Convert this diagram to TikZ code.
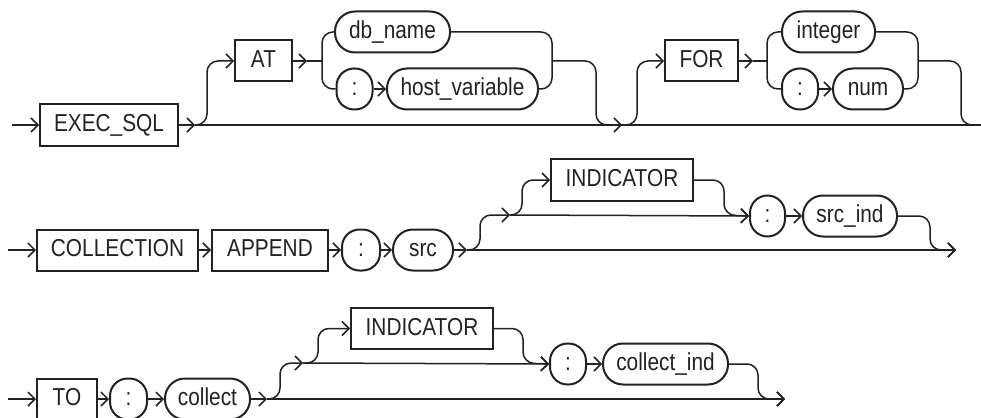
\documentclass[tikz,border=0pt]{standalone}
\usepackage{fontspec}
\setmainfont{Liberation Sans}[FakeStretch=0.85]
\usetikzlibrary{arrows.meta}
\definecolor{ink}{HTML}{222222}
\begin{document}
\begin{tikzpicture}[x=1pt,y=-1pt,
  every node/.style={inner sep=0pt, text height=17.5pt, text depth=4pt,
    font=\fontsize{24.5}{28}\selectfont, text=ink},
  kw/.style={draw=ink, line width=2pt, minimum height=41pt},
  pill/.style={draw=ink, line width=2pt, minimum height=41pt, rounded corners=20pt},
  colon/.style={draw=ink, line width=2pt, minimum height=41pt, minimum width=36pt, rounded corners=17.5pt},
  conn/.style={draw=ink, line width=1.5pt, rounded corners=11pt},
  arr/.style={conn, -{Straight Barb[length=7pt,width=14pt]}},
]
\useasboundingbox (0,0) rectangle (981,417);
\clip (0,0) rectangle (981,417);

% ---------- Row 1 ----------
\node[kw, minimum width=138pt] (exec) at (109,125) {EXEC\_SQL};
\node[kw, minimum width=57pt] (at) at (263.5,61) {AT};
\node[pill, minimum width=115pt] (dbname) at (392.5,32) {db\_name};
\node[colon] (colon1) at (354.5,89) {:};
\node[pill, minimum width=151pt] (hostvar) at (462.5,89) {host\_variable};
\node[kw, minimum width=73pt] (for) at (701.5,61) {FOR};
\node[pill, minimum width=93pt] (integer) at (828.5,32) {integer};
\node[colon] (colon2) at (800,89) {:};
\node[pill, minimum width=70pt] (num) at (868,89) {num};

\coordinate (s1) at (12,125);
\coordinate (j1) at (195,125);
\coordinate (e1) at (981,125);
\coordinate (a1) at (307,61);
\coordinate (lb1) at (322,61);
\coordinate (rb1) at (552,61);
\coordinate (m1) at (622,125);
\coordinate (b1) at (625,125);
\coordinate (a2) at (753,61);
\coordinate (lb2) at (767,61);
\coordinate (rb2) at (918,61);

\draw[arr] (s1) -- (exec.west);
\draw[arr] (exec.east) -- (j1);
\draw[conn] (j1) -- (e1);
\draw[arr] (j1) -| (207,61) -- (at.west);
\draw[arr] (at.east) -- (a1);
\draw[conn] (a1) -- (lb1);
\draw[conn] (dbname.west) -| (lb1) |- (colon1.west);
\draw[arr] (colon1.east) -- (hostvar.west);
\draw[conn] (dbname.east) -| (rb1) |- (hostvar.east);
\draw[arr] (rb1) -| (596,125) -- (m1);
\draw[arr] (b1) -| (637,61) -- (for.west);
\draw[arr] (for.east) -- (a2);
\draw[conn] (a2) -- (lb2);
\draw[conn] (integer.west) -| (lb2) |- (colon2.west);
\draw[arr] (colon2.east) -- (num.west);
\draw[conn] (integer.east) -| (rb2) |- (num.east);
\draw[conn] (rb2) -| (961,125) -- (e1);

% ---------- Row 2 ----------
\node[kw, minimum width=161pt] (collection) at (117.5,250) {COLLECTION};
\node[kw, minimum width=116pt] (append) at (270,250) {APPEND};
\node[colon, minimum width=38pt] (colon3) at (361,250) {:};
\node[pill, minimum width=60pt] (src) at (423,250) {src};
\node[kw, minimum width=142pt, minimum height=42pt] (ind1) at (622,180) {INDICATOR};
\node[colon, minimum width=35pt] (colon4) at (767.5,216) {:};
\node[pill, minimum width=94pt] (srcind) at (850,216) {src\_ind};

\coordinate (s2) at (8,250);
\coordinate (j2) at (467,250);
\coordinate (k2) at (510,215);
\coordinate (e2) at (956,250);

\draw[arr] (s2) -- (collection.west);
\draw[arr] (collection.east) -- (append.west);
\draw[arr] (append.east) -- (colon3.west);
\draw[arr] (colon3.east) -- (src.west);
\draw[arr] (src.east) -- (j2);
\draw[arr] (j2) -- (e2);
\draw[arr] (j2) -| (480,215) -- (k2);
\draw[arr] (k2) -| (522,180) -- (ind1.west);
\draw[arr] (k2) -- (colon4.west);
\draw[arr] (ind1.east) -| (724,215) -- (colon4.west);
\draw[arr] (colon4.east) -- (srcind.west);
\draw[arr] (srcind.east) -| (930,250) -- (e2);

% ---------- Row 3 ----------
\node[kw, minimum width=60pt] (to) at (67,399) {TO};
\node[colon, minimum width=37pt] (colon5) at (128.5,399) {:};
\node[pill, minimum width=85pt] (collect) at (207.5,399) {collect};
\node[kw, minimum width=142pt] (ind2) at (422,328.5) {INDICATOR};
\node[colon] (colon6) at (568,364) {:};
\node[pill, minimum width=125pt] (collectind) at (665.5,364) {collect\_ind};

\coordinate (s3) at (8,399);
\coordinate (j3) at (267,399);
\coordinate (k3) at (303,363);
\coordinate (e3) at (785,399);

\draw[arr] (s3) -- (to.west);
\draw[arr] (to.east) -- (colon5.west);
\draw[arr] (colon5.east) -- (collect.west);
\draw[arr] (collect.east) -- (j3);
\draw[arr] (j3) -- (e3);
\draw[arr] (j3) -| (280,363) -- (k3);
\draw[arr] (k3) -| (318,328.5) -- (ind2.west);
\draw[arr] (k3) -- (colon6.west);
\draw[arr] (ind2.east) -| (523,363) -- (colon6.west);
\draw[arr] (colon6.east) -- (collectind.west);
\draw[arr] (collectind.east) -| (758,399) -- (e3);
\end{tikzpicture}
\end{document}
